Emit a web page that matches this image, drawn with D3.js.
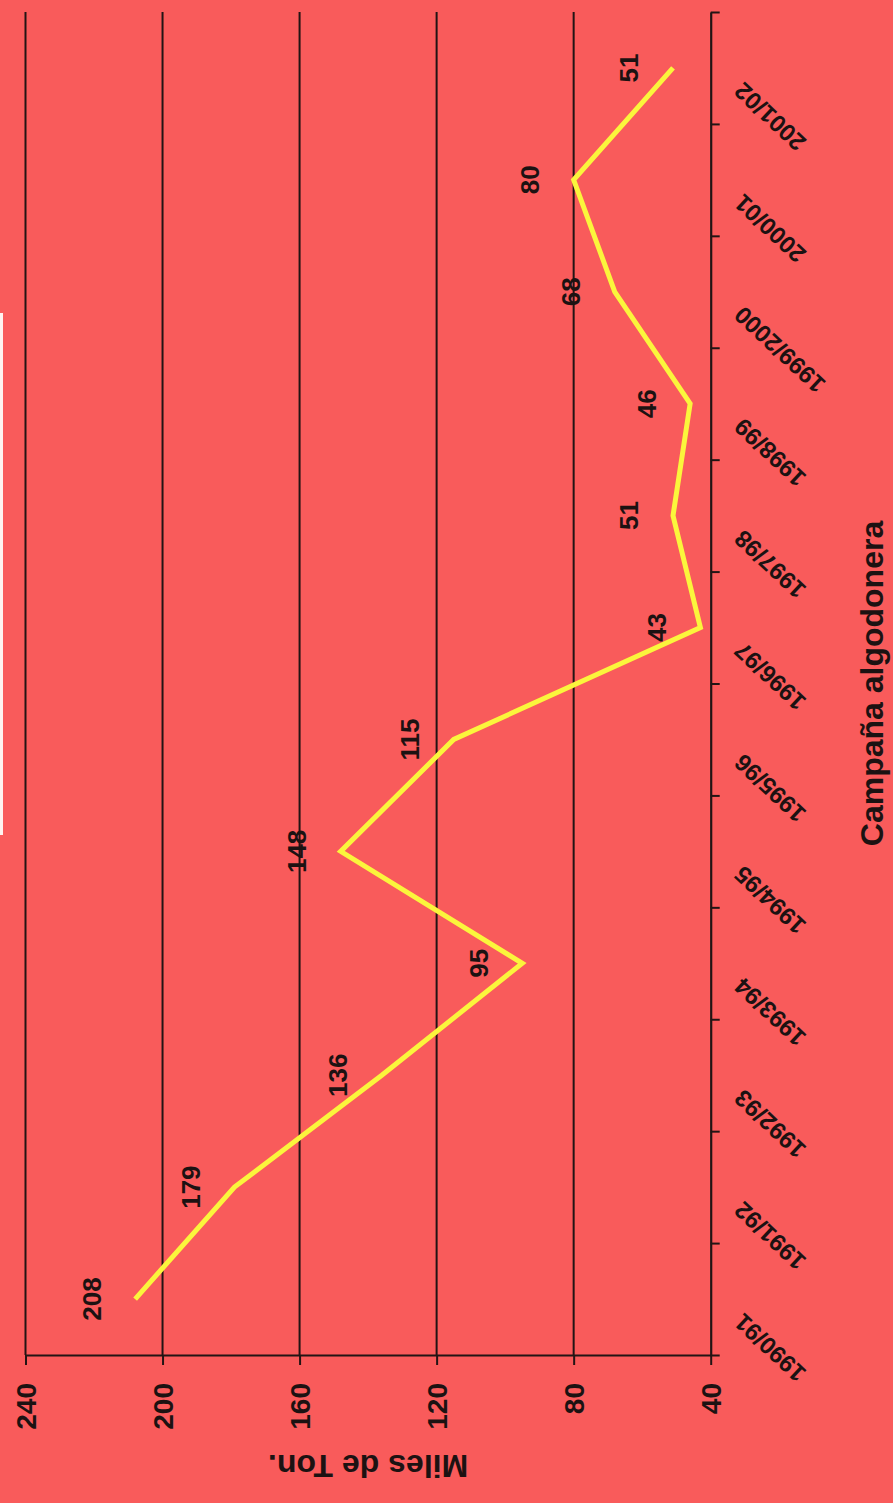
<!DOCTYPE html>
<html>
<head>
<meta charset="utf-8">
<script src="https://cdn.jsdelivr.net/npm/d3@7"></script>
<style>
html,body{margin:0;padding:0;background:#f95b5b;}
svg{display:block;}
text{font-family:"Liberation Sans",Arial,sans-serif;font-weight:bold;fill:#1c1212;}
</style>
</head>
<body>
<svg id="chart" width="893" height="1503"></svg>
<script>
const categories = ["1990/91","1991/92","1992/93","1993/94","1994/95","1995/96","1996/97","1997/98","1998/99","1999/2000","2000/01","2001/02"];
const values = [208,179,136,95,148,115,43,51,46,68,80,51];
const valueTicks = [240,200,160,120,80,40];
const gridTicks = [240,200,160,120,80];
const valueTitle = "Miles de Ton.";
const categoryTitle = "Campaña algodonera";

(function () {
const W = 893, H = 1503;
const svg = d3.select("#chart");
svg.append("rect").attr("width", W).attr("height", H).attr("fill", "#f95b5b");
svg.append("rect").attr("x", 0).attr("y", 313).attr("width", 3).attr("height", 522).attr("fill", "#fff3f0");

const pTop = 12, pBottom = 1355, pLeft = 25.5, pRight = 710.7;
// value scale runs horizontally (chart rotated)
const x = d3.scaleLinear().domain([40, 240]).range([pRight, pLeft]);
const y = d3.scaleBand().domain(categories).range([pBottom, pTop]).padding(0);
const idx = d3.scaleLinear().domain([0, categories.length]).range([pBottom, pTop]);
const yc = c => y(c) + y.bandwidth() / 2;

const ink = "#221414";

// gridlines
svg.append("g").selectAll("line").data(gridTicks).join("line")
  .attr("x1", d => x(d)).attr("x2", d => x(d))
  .attr("y1", pTop).attr("y2", pBottom)
  .attr("stroke", ink).attr("stroke-width", 2);

// value axis (bottom)
const vAxis = svg.append("g").attr("transform", `translate(0,${pBottom})`)
  .call(d3.axisBottom(x).tickValues(valueTicks).tickSize(10).tickSizeOuter(0).tickFormat(d3.format("d")));
vAxis.select(".domain").attr("stroke", ink).attr("stroke-width", 2.2);
vAxis.selectAll(".tick line").attr("stroke", ink).attr("stroke-width", 2);
vAxis.selectAll(".tick text")
  .attr("x", 0).attr("y", 0).attr("dy", "0.36em")
  .attr("transform", "translate(0,28) rotate(-90)")
  .attr("text-anchor", "end")
  .style("font-size", "28px").style("font-family", "Liberation Sans, Arial, sans-serif")
  .style("font-weight", "bold").attr("fill", "#1c1212");

// category axis (right)
const cAxis = svg.append("g").attr("transform", `translate(${pRight},0)`)
  .call(d3.axisRight(idx).tickValues(d3.range(categories.length + 1)).tickSize(9).tickSizeOuter(0).tickFormat(""));
cAxis.select(".domain").attr("stroke", ink).attr("stroke-width", 2.2);
cAxis.selectAll(".tick line").attr("stroke", ink).attr("stroke-width", 2);

// category labels
svg.append("g").selectAll("text").data(categories).join("text")
  .attr("transform", d => `translate(744,${yc(d) + 13}) rotate(-137)`)
  .attr("text-anchor", "end")
  .style("font-size", "24px")
  .text(d => d);

// line
const line = d3.line().x(d => x(d.v)).y(d => yc(d.c));
const pts = categories.map((c, i) => ({c, v: values[i]}));
svg.append("path").datum(pts).attr("d", line)
  .attr("fill", "none").attr("stroke", "#fbf53c").attr("stroke-width", 5)
  .attr("stroke-linejoin", "miter");

// data labels
svg.append("g").selectAll("text").data(pts).join("text")
  .attr("transform", d => `translate(${x(d.v) - 44},${yc(d.c)}) rotate(-90)`)
  .attr("text-anchor", "middle").attr("dy", "0.36em")
  .style("font-size", "26px")
  .text(d => d.v);

// titles
svg.append("text")
  .attr("transform", `translate(883,${(pTop + pBottom) / 2}) rotate(-90)`)
  .attr("text-anchor", "middle")
  .style("font-size", "32px")
  .text(categoryTitle);

svg.append("text")
  .attr("transform", `translate(${(pLeft + pRight) / 2},1455) rotate(180)`)
  .attr("text-anchor", "middle")
  .style("font-size", "32px")
  .text(valueTitle);
})();
</script>
</body>
</html>
